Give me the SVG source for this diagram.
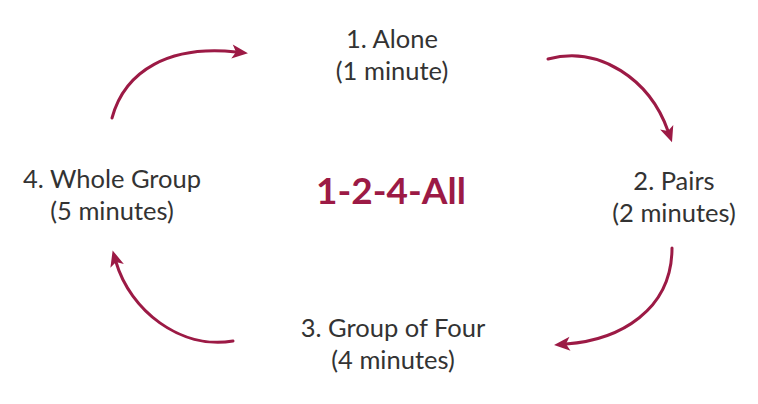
<svg xmlns="http://www.w3.org/2000/svg" width="758" height="404" viewBox="0 0 758 404">
<style>
.t{font-family:"Lato","Open Sans","Liberation Sans",sans-serif;font-size:25.5px;fill:#333;text-anchor:middle}
.title{font-family:"Lato","Open Sans","Liberation Sans",sans-serif;font-size:37px;font-weight:bold;fill:#9c1a45;text-anchor:middle}
.arc{fill:none;stroke:#9c1a45;stroke-width:3;stroke-linecap:round}
</style>
<defs>
<marker id="ah" markerUnits="userSpaceOnUse" markerWidth="20" markerHeight="16" refX="4" refY="7" orient="auto" overflow="visible">
<path d="M0,0 L16,7 L0,14 L4,7 z" fill="#9c1a45"/>
</marker>
</defs>
<rect width="758" height="404" fill="#fff"/>
<g id="center"><text class="title" x="391" y="204">1-2-4-All</text></g>
<g id="alone"><text class="t" x="392" y="48">1. Alone</text><text class="t" x="392" y="80">(1 minute)</text></g>
<g id="pairs"><text class="t" x="674" y="190">2. Pairs</text><text class="t" x="674" y="222">(2 minutes)</text></g>
<g id="four"><text class="t" x="393" y="337">3. Group of Four</text><text class="t" x="393" y="369">(4 minutes)</text></g>
<g id="whole"><text class="t" x="112" y="188">4. Whole Group</text><text class="t" x="112" y="220">(5 minutes)</text></g>
<g id="connectors">
<path class="arc" d="M112,118 C125,70 170,45 236,52" marker-end="url(#ah)"/>
<path class="arc" d="M548,59 C600,45 650,80 668,131" marker-end="url(#ah)"/>
<path class="arc" d="M672,248 C672,310 620,340 566,344" marker-end="url(#ah)"/>
<path class="arc" d="M233,341 C180,350 130,310 116,262" marker-end="url(#ah)"/>
</g>
</svg>
